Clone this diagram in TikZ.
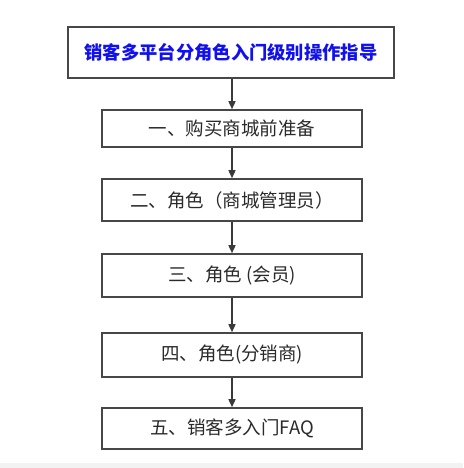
\documentclass[tikz,border=0pt]{standalone}
\usepackage{fontspec}
\setmainfont{Noto Sans CJK SC}
\usetikzlibrary{arrows.meta}
\definecolor{boxline}{HTML}{474747}
\definecolor{arrowc}{HTML}{3A3A3A}
\definecolor{titleblue}{HTML}{1010F0}
\definecolor{barbg}{HTML}{F2F2F2}
\definecolor{txt}{HTML}{2A2A2A}
\begin{document}
\begin{tikzpicture}[x=1pt,y=-1pt,
  stepbox/.style={draw=boxline, line width=1.6pt, minimum width=260pt, minimum height=#1, inner sep=0pt, font=\fontsize{18.5}{21}\selectfont, text=txt},
  titlebox/.style={draw=boxline, line width=1.6pt, minimum width=326pt, minimum height=51pt, inner sep=0pt, font=\fontsize{18.3}{21}\selectfont\bfseries, text=titleblue},
  conn/.style={draw=arrowc, line width=1.5pt, -{Triangle[length=8pt,width=7pt]}}]
\useasboundingbox (0,0) rectangle (463,468);
\fill[white] (0,0) rectangle (463,468);
\fill[barbg] (0,463) rectangle (463,468);
\node[titlebox] (t) at (231,52.5) {销客多平台分角色入门级别操作指导};
\node[stepbox=37pt] (b1) at (232,128.5) {一、购买商城前准备};
\node[stepbox=42pt] (b2) at (232,200) {二、角色（商城管理员）};
\node[stepbox=43pt] (b3) at (232,275.5) {三、角色 (会员)};
\node[stepbox=44pt] (b4) at (232,355) {四、角色(分销商)};
\node[stepbox=41pt] (b5) at (232,428.5) {五、销客多入门FAQ};
\draw[conn] (t.south -| b1.north) -- (b1.north);
\draw[conn] (b1) -- (b2);
\draw[conn] (b2) -- (b3);
\draw[conn] (b3) -- (b4);
\draw[conn] (b4) -- (b5);
\end{tikzpicture}
\end{document}
